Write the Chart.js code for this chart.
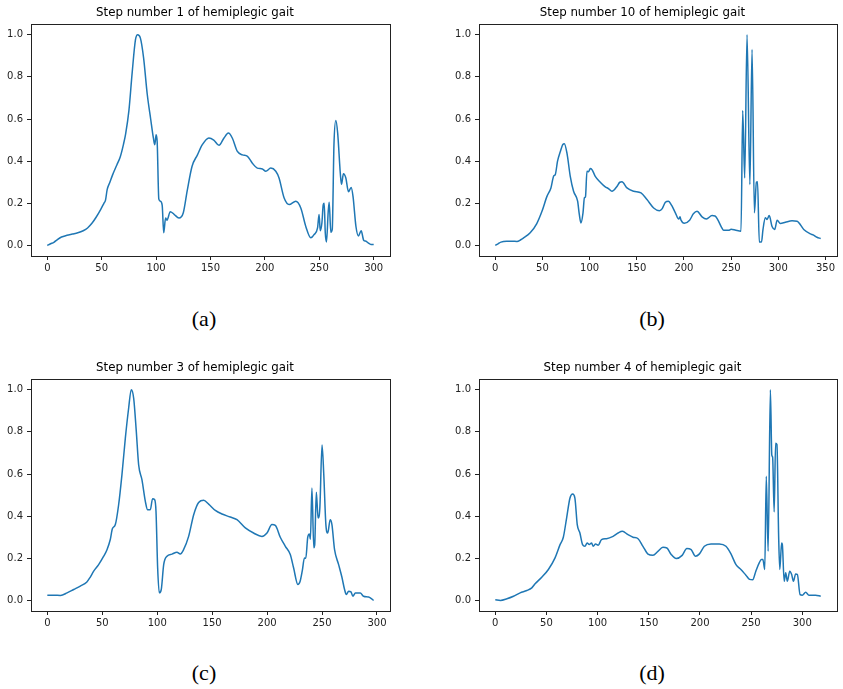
<!DOCTYPE html>
<html>
<head>
<meta charset="utf-8">
<script src="https://cdn.jsdelivr.net/npm/chart.js@4/dist/chart.umd.min.js"></script>
<style>
body { margin: 0; background: #fff; overflow: hidden; }
#page { position: relative; width: 843px; height: 689px; background: #fff; }
#page canvas { position: absolute; }
.cap {
  position: absolute;
  font-family: "Liberation Serif", "DejaVu Serif", serif;
  font-size: 22px;
  color: #000;
  transform: translate(-50%, -50%);
}
</style>
</head>
<body>
<div id="page">
  <canvas id="stepA" width="400" height="280" style="left:0;top:0"></canvas>
  <canvas id="stepB" width="395" height="280" style="left:448px;top:0"></canvas>
  <canvas id="stepC" width="400" height="280" style="left:0;top:355px"></canvas>
  <canvas id="stepD" width="395" height="280" style="left:448px;top:355px"></canvas>
  <div class="cap" style="left:204px;top:319px">(a)</div>
  <div class="cap" style="left:652px;top:319px">(b)</div>
  <div class="cap" style="left:204px;top:673px">(c)</div>
  <div class="cap" style="left:652px;top:673px">(d)</div>
</div>
<script>
// sample index / normalised signal for each step
var step1X = [0,3,6,9,13,18,23,28,33,37,41,45,49,52,53.5,55,57.5,60,64,67,70,72,75,78,81,83,85.5,88.5,91.8,95,97.5,98.8,100,101,102.5,104,105.6,107,108.7,110,113,116.5,121,125,128.6,133,138,142.5,148.5,153,157.8,162.4,166.4,170,174.7,179.3,184,188.5,193,197.7,200.8,205.4,210,213,217.7,222.3,228.4,233,237.6,242.2,245.3,248.4,249.8,250.9,252.4,253.6,254.5,255.5,256.6,258.2,259.1,260.6,261.9,263.5,265.2,266.9,269.3,270.4,272.2,274.4,276.8,279.3,281,283.7,286,288.5,290.8,293,295,297.5,300];
var step1Y = [0,0.008,0.015,0.027,0.04,0.048,0.054,0.06,0.07,0.083,0.105,0.135,0.17,0.2,0.215,0.265,0.3,0.335,0.383,0.42,0.48,0.53,0.64,0.82,0.975,1.0,0.985,0.89,0.72,0.6,0.51,0.478,0.525,0.49,0.22,0.21,0.19,0.06,0.13,0.12,0.16,0.148,0.13,0.155,0.26,0.375,0.43,0.478,0.51,0.5,0.475,0.51,0.533,0.51,0.446,0.43,0.423,0.39,0.367,0.363,0.352,0.367,0.352,0.32,0.225,0.194,0.21,0.178,0.09,0.036,0.052,0.083,0.147,0.07,0.107,0.192,0.2,0.06,0.016,0.16,0.205,0.063,0.076,0.48,0.593,0.533,0.344,0.29,0.34,0.32,0.255,0.275,0.233,0.09,0.045,0.07,0.025,0.02,0.012,0.005,0.005];

var step10X = [0,3,6,12,18,23,27,30,37,44,49.5,54.8,59,62,63.6,66,69,71.5,73.2,76,79.5,83,87.3,89,90.8,93,94.5,95.6,97.2,99,100.7,102.5,106,111.3,116.6,120,123.7,129,132,134.3,139.6,146.7,154.5,160.8,167.9,174,177,180.3,183.5,187,190.9,194.5,195.8,196.9,200.4,206,210,213.9,219.2,223.8,229.8,233,235.8,240,242.1,247.4,250,255,260.5,262.3,264.4,266.9,269.9,272.2,274.7,276.8,278,279.9,282.2,283.8,286.3,288.1,290.4,293.4,296.2,298.8,302.2,307.5,314.6,319.9,327,334,337,341,345];
var step10Y = [0,0.008,0.016,0.02,0.02,0.019,0.027,0.036,0.06,0.104,0.162,0.233,0.273,0.33,0.336,0.4,0.446,0.478,0.483,0.438,0.328,0.257,0.21,0.15,0.107,0.155,0.226,0.23,0.352,0.35,0.365,0.36,0.328,0.3,0.278,0.27,0.257,0.28,0.3,0.302,0.273,0.257,0.249,0.218,0.178,0.165,0.175,0.205,0.21,0.19,0.155,0.125,0.136,0.12,0.105,0.12,0.15,0.162,0.136,0.126,0.142,0.14,0.123,0.085,0.072,0.072,0.077,0.072,0.068,0.64,0.32,1.0,0.289,0.93,0.155,0.3,0.302,0.016,0.016,0.076,0.131,0.123,0.142,0.09,0.076,0.12,0.104,0.11,0.117,0.115,0.076,0.055,0.05,0.039,0.033];

var step3X = [0,6,12,18,24,30,36,39,42.2,46.7,51.3,54.3,57.3,59.2,61.9,64.9,67.9,71,74,76.4,78.6,81,83.1,86.1,89.2,91.3,93.7,95.8,97.7,98.9,100.4,101.9,103.7,105.9,108.9,113.4,118,121,124,128.6,133.2,137.7,142.3,146.8,152.9,159,166.5,172.6,180.2,187.7,195.3,199.9,204.4,207.5,212,216.6,221.1,224.1,228,230,232,234,235.2,237,238.5,239.4,240.8,242.5,243.3,244.8,246.4,248,250,251.6,253.5,255.2,257.4,259,261.4,265.1,268.1,270.5,272.1,274.2,276.3,278.1,280.3,284.8,287.8,292.4,294.5,297];
var step3Y = [0.025,0.025,0.024,0.036,0.052,0.068,0.088,0.11,0.139,0.17,0.21,0.241,0.289,0.34,0.36,0.454,0.596,0.77,0.912,1.0,0.959,0.8,0.644,0.573,0.47,0.43,0.43,0.483,0.478,0.423,0.155,0.036,0.052,0.17,0.21,0.22,0.229,0.22,0.241,0.304,0.407,0.465,0.475,0.457,0.427,0.41,0.396,0.383,0.344,0.32,0.304,0.32,0.36,0.356,0.3,0.257,0.218,0.155,0.076,0.09,0.14,0.202,0.2,0.3,0.315,0.29,0.533,0.25,0.262,0.514,0.391,0.438,0.738,0.596,0.36,0.32,0.383,0.36,0.241,0.17,0.11,0.052,0.028,0.044,0.041,0.02,0.035,0.035,0.02,0.016,0.01,0.0];

var step4X = [0,5,11.4,17.8,24.3,30.8,35.7,38.9,45.4,51.9,58.4,63.3,66.5,69.7,73,75.6,77.8,80.1,82.7,85.3,87.6,89.8,91.8,94.1,95.7,98,100.6,103.8,108.7,115.1,120,124.2,129.7,134.6,139.5,144.3,149.2,154.1,158.9,163.8,167.7,171.9,176.8,182.6,187.2,191.4,195.6,199.5,204.3,210.8,218.9,225.4,230.3,235.2,240,244.9,248.5,251.5,254.6,257.9,260,261.5,263.3,264.8,266.6,268.8,270.2,271,272.5,273.9,275.2,276.9,278,279.8,280.5,282.3,283.8,285.4,287.7,289.6,291.3,293.5,295.2,297.8,300,303.3,306.5,313,318];
var step4Y = [0.003,0,0.008,0.02,0.036,0.047,0.06,0.079,0.11,0.147,0.202,0.265,0.3,0.391,0.486,0.505,0.486,0.36,0.32,0.265,0.257,0.273,0.265,0.273,0.257,0.268,0.262,0.289,0.293,0.304,0.32,0.328,0.312,0.3,0.293,0.257,0.22,0.214,0.233,0.252,0.249,0.218,0.199,0.214,0.246,0.241,0.21,0.221,0.257,0.268,0.268,0.257,0.221,0.17,0.147,0.12,0.1,0.098,0.139,0.178,0.194,0.194,0.147,0.589,0.234,1.0,0.69,0.68,0.42,0.746,0.74,0.3,0.147,0.273,0.265,0.091,0.131,0.091,0.139,0.123,0.091,0.126,0.123,0.028,0.025,0.039,0.025,0.025,0.02];

var xTicks300 = [0, 50, 100, 150, 200, 250, 300];
var xTicks350 = [0, 50, 100, 150, 200, 250, 300, 350];
var yTicks = [0, 0.2, 0.4, 0.6, 0.8, 1.0];

// closes the box on the top and right side like a matplotlib axes
var frame = {
  id: 'frame',
  afterDraw: function (chart) {
    var a = chart.chartArea, ctx = chart.ctx;
    ctx.save();
    ctx.strokeStyle = '#222';
    ctx.lineWidth = 1;
    ctx.strokeRect(Math.round(a.left) + 0.5, Math.round(a.top) + 0.5,
      Math.round(a.right - a.left), Math.round(a.bottom - a.top));
    ctx.restore();
  }
};

function drawStep(id, title, xs, ys, xTicks, padRight) {
  var last = xs[xs.length - 1];
  var pts = xs.map(function (x, i) { return { x: x, y: ys[i] }; });
  var tickFont = { family: 'DejaVu Sans', size: 10 };
  new Chart(id, {
    type: 'line',
    data: {
      datasets: [{
        data: pts,
        borderColor: '#1f77b4',
        borderWidth: 1.5,
        pointRadius: 0,
        cubicInterpolationMode: 'monotone'
      }]
    },
    options: {
      responsive: false,
      animation: false,
      devicePixelRatio: 1,
      layout: { padding: { right: padRight } },
      plugins: {
        legend: { display: false },
        tooltip: { enabled: false },
        title: {
          display: true,
          text: title,
          color: '#000',
          font: { family: 'DejaVu Sans', size: 11.8, weight: 'normal', lineHeight: 1.2 },
          padding: { top: 6, bottom: 4 }
        }
      },
      scales: {
        x: {
          type: 'linear',
          min: -0.05 * last,
          max: 1.05 * last,
          afterBuildTicks: function (s) { s.ticks = xTicks.map(function (v) { return { value: v }; }); },
          afterFit: function (s) { s.height = 24; },
          grid: { drawOnChartArea: false, tickLength: 4, color: '#222' },
          border: { color: '#222' },
          ticks: { color: '#222', font: tickFont, padding: 2, maxRotation: 0 }
        },
        y: {
          min: -0.05,
          max: 1.05,
          afterBuildTicks: function (s) { s.ticks = yTicks.map(function (v) { return { value: v }; }); },
          afterFit: function (s) { s.width = 31; },
          grid: { drawOnChartArea: false, tickLength: 4, color: '#222' },
          border: { color: '#222' },
          ticks: { color: '#222', font: tickFont, padding: 4, callback: function (v) { return v.toFixed(1); } }
        }
      }
    },
    plugins: [frame]
  });
}

drawStep('stepA', 'Step number 1 of hemiplegic gait', step1X, step1Y, xTicks300, 10);
drawStep('stepB', 'Step number 10 of hemiplegic gait', step10X, step10Y, xTicks350, 6);
drawStep('stepC', 'Step number 3 of hemiplegic gait', step3X, step3Y, xTicks300, 10);
drawStep('stepD', 'Step number 4 of hemiplegic gait', step4X, step4Y, xTicks300, 6);
</script>
</body>
</html>
